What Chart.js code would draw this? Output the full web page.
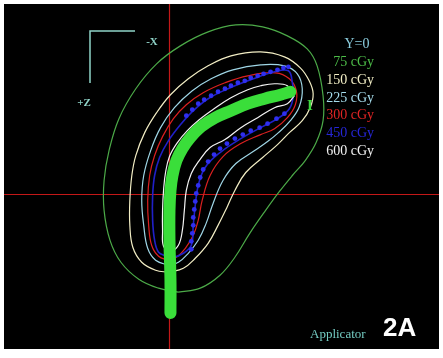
<!DOCTYPE html>
<html><head><meta charset="utf-8">
<script src="https://cdn.jsdelivr.net/npm/chart.js@4"></script>
<style>html,body{margin:0;padding:0;background:#fff;}#wrap{width:443px;height:358px;}</style>
</head><body><div id="wrap"><canvas id="c" width="443" height="358"></canvas></div>
<script>
// Plane Y=0, coordinates relative to the crosshair origin (x right, z up)
const applicator = [[1,-119],[1,-86],[0,-46],[0,-16],[1,4],[3,19],[7,34],[13,46],[21,57],[32,68],[46,77],[62,84],[79,91],[96,96],[112,100],[122,103]];
const iso75 = [[9,-98],[-11,-94],[-31,-85],[-49,-68],[-60,-46],[-66,-16],[-66,14],[-61,44],[-51,76],[-34,106],[-13,131],[11,149],[39,163],[67,170],[94,168],[119,159],[139,146],[149,129],[155,99],[155,74],[148,52],[137,34],[124,19],[111,3],[97,-16],[81,-39],[66,-63],[51,-81],[31,-94],[9,-98]];
const iso150 = [[-1,-78],[-14,-76],[-28,-68],[-37,-53],[-40,-31],[-40,-6],[-38,19],[-34,39],[-25,62],[-13,82],[1,100],[19,116],[39,129],[62,139],[92,143],[116,138],[132,127],[141,114],[145,101],[142,87],[134,74],[121,62],[109,50],[94,37],[77,22],[66,4],[58,-13],[49,-31],[39,-49],[26,-64],[14,-74],[-1,-78]];
const iso225 = [[-1,-71],[-14,-66],[-22,-54],[-26,-31],[-28,-6],[-26,19],[-19,44],[-9,67],[5,87],[23,104],[42,116],[64,125],[92,130],[116,129],[129,121],[134,106],[131,88],[122,74],[110,62],[99,53],[86,44],[67,31],[54,14],[44,-9],[37,-29],[29,-46],[19,-59],[9,-68],[-1,-71]];
const iso300 = [[-1,-66],[-11,-62],[-18,-51],[-21,-31],[-22,-6],[-20,19],[-15,39],[-7,58],[4,76],[17,90],[34,102],[56,112],[79,119],[107,122],[121,116],[128,104],[127,90],[119,77],[106,66],[92,60],[72,51],[54,38],[41,19],[33,-6],[29,-26],[24,-41],[16,-54],[7,-63],[-1,-66]];
const iso450 = [[-3,-62],[-11,-58],[-15,-46],[-17,-26],[-17,-1],[-15,19],[-10,37],[-1,54],[11,70],[24,84],[39,96],[59,106],[82,115],[106,123],[120,124],[124,112],[125,99],[121,86],[109,76],[94,68],[72,56],[51,42],[36,27],[29,9],[26,-11],[24,-31],[22,-51],[14,-59],[4,-63],[-3,-62]];
const iso450dotsOuter = [[17,79],[23,85],[29,91],[35,95],[42,99],[49,103],[56,106],[62,109],[69,112],[76,114],[82,117],[89,119],[95,121],[102,123],[109,125],[115,127],[120,128]];
const iso450dotsInner = [[116,81],[108,76],[99,71],[91,67],[82,64],[74,60],[66,56],[58,51],[51,46],[45,40],[39,33],[34,25],[31,17],[29,9],[27,1],[26,-7],[25,-15],[24,-23],[24,-31],[23,-39],[22,-47],[22,-55]];
const iso600 = [[126,99],[119,91],[106,87],[89,77],[72,67],[56,55],[41,47],[30,34],[22,21],[17,4],[15,-16],[13,-36],[9,-51],[1,-57],[-6,-52],[-7,-36],[-7,-16],[-6,4],[-4,22],[0,38],[8,52],[18,64],[30,75],[45,86],[62,97],[79,105],[92,109],[106,111],[119,109],[126,99]];
const legendLabels = ['Y=0','75 cGy','150 cGy','225 cGy','300 cGy','450 cGy','600 cGy'];
const legendColors = ['#8ccfe0','#4cbc48','#f3efc6','#a6dcec','#e02424','#2626d8','#f2f2f2'];
const xRange = [-167, 272];
const yRange = [-155, 191];

const toXY = a => a.map(p => ({x:p[0], y:p[1]}));
const lineDs = (data, color, w, order) => ({data: toXY(data), showLine:true, borderColor:color, borderWidth:w, pointRadius:0, tension:0.4, fill:false, order});

const bgPlugin = {
  id:'bg',
  beforeDraw(chart){
    const {ctx, chartArea:a} = chart;
    ctx.save(); ctx.fillStyle='#000'; ctx.fillRect(a.left, a.top, a.right-a.left, a.bottom-a.top); ctx.restore();
  },
  beforeDatasetsDraw(chart){
    const {ctx, chartArea:a, scales} = chart;
    const x0 = Math.round(scales.x.getPixelForValue(0))+0.5, y0 = Math.round(scales.y.getPixelForValue(0))+0.5;
    ctx.save(); ctx.strokeStyle='#c41818'; ctx.lineWidth=1.2;
    ctx.beginPath(); ctx.moveTo(x0,a.top); ctx.lineTo(x0,a.bottom); ctx.moveTo(a.left,y0); ctx.lineTo(a.right,y0); ctx.stroke();
    ctx.restore();
  },
  afterDraw(chart){
    const ctx = chart.ctx;
    ctx.save();
    ctx.strokeStyle='#8fd3c8'; ctx.lineWidth=1.5;
    ctx.beginPath(); ctx.moveTo(135,31); ctx.lineTo(90,31); ctx.lineTo(90,83); ctx.stroke();
    ctx.fillStyle='#8fd3c8'; ctx.font='bold 11px "Liberation Serif"'; ctx.textAlign='center'; ctx.textBaseline='middle';
    ctx.fillText('-X',152,42); ctx.fillText('+Z',84,103);
    ctx.font='14px "Liberation Serif"';
    ctx.fillStyle=legendColors[0]; ctx.textAlign='center'; ctx.fillText(legendLabels[0],357,44);
    ctx.textAlign='right';
    const ys=[62,80,98,115,133,151];
    for(let i=1;i<legendLabels.length;i++){ ctx.fillStyle=legendColors[i]; ctx.fillText(legendLabels[i],374,ys[i-1]); }
    ctx.fillStyle='#3fd83f'; ctx.font='bold 15px "Liberation Serif"'; ctx.textAlign='center';
    ctx.fillText('I',310,106);
    ctx.fillStyle='#74cbc2'; ctx.font='13px "Liberation Serif"'; ctx.textAlign='left';
    ctx.fillText('Applicator',310,335);
    ctx.fillStyle='#ffffff'; ctx.font='bold 26px "Liberation Sans Narrow", "Liberation Sans"';
    ctx.fillText('2A',383,329);
    ctx.restore();
  }
};

new Chart(document.getElementById('c'), {
  type:'scatter',
  data:{datasets:[
    Object.assign(lineDs(applicator,'#3ade3a',12,0),{borderCapStyle:'round'}),
    {data: toXY(iso450dotsOuter.concat(iso450dotsInner)), showLine:false, pointRadius:2.4, pointBackgroundColor:'#2f2ff0', pointBorderWidth:0, order:1},
    lineDs(iso600,'#f4f4f4',1.2,2),
    lineDs(iso450,'#2020c8',1.6,3),
    lineDs(iso300,'#dc2020',1.2,4),
    lineDs(iso225,'#9fd6e6',1.2,5),
    lineDs(iso150,'#f2edc4',1.2,6),
    lineDs(iso75,'#4caa48',1.2,7)
  ]},
  options:{
    responsive:false, animation:false, devicePixelRatio:1,
    layout:{padding:{left:4,top:3,right:0,bottom:9}},
    plugins:{legend:{display:false},tooltip:{enabled:false}},
    scales:{
      x:{type:'linear',display:false,min:xRange[0],max:xRange[1]},
      y:{type:'linear',display:false,min:yRange[0],max:yRange[1]}
    }
  },
  plugins:[bgPlugin]
});
</script></body></html>
